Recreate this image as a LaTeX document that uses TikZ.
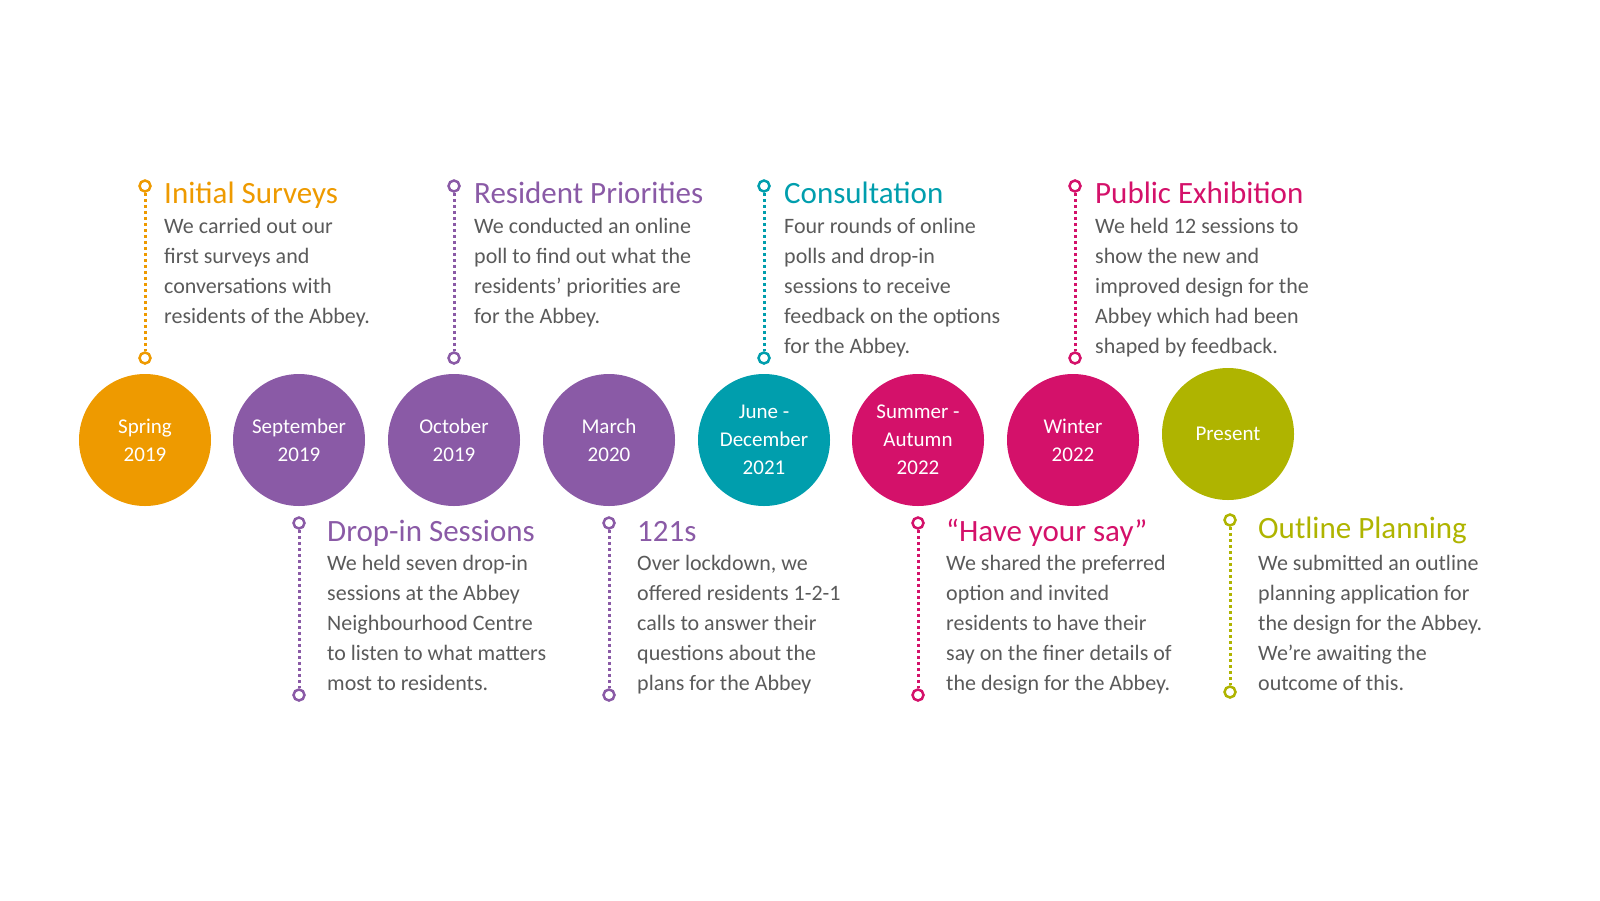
\documentclass[tikz,border=0pt]{standalone}
\usepackage{fontspec}
\setmainfont{Carlito}
\usetikzlibrary{positioning}
\definecolor{orng}{HTML}{EE9A00}
\definecolor{purp}{HTML}{8A5AA6}
\definecolor{teal}{HTML}{009EAD}
\definecolor{mgnt}{HTML}{D4116A}
\definecolor{olive}{HTML}{AFB400}
\definecolor{body}{HTML}{5A5A5A}
\tikzset{
  stage/.style={circle, minimum size=132pt, inner sep=0pt, text=white, align=center, font=\fontsize{21}{28}\selectfont},
  ring/.style={circle, draw, line width=2.5pt, fill=white, minimum size=11pt, inner sep=0pt},
  stem/.style={line width=3pt, dash pattern=on 3pt off 3pt},
  heading/.style={anchor=base west, font=\fontsize{31}{32}\selectfont, inner sep=0pt},
  blurb/.style={anchor=north west, align=left, text=body, font=\fontsize{22}{30}\selectfont, inner sep=0pt}
}
\begin{document}
\begin{tikzpicture}[x=1pt, y=-1pt]
  \useasboundingbox (0,0) rectangle (1600,900);

  % Stages
  \node (spring19) [stage, fill=orng] at (145,440) {Spring\\2019};
  \node (sep19) [stage, fill=purp] at (299,440) {September\\2019};
  \node (oct19) [stage, fill=purp] at (454,440) {October\\2019};
  \node (mar20) [stage, fill=purp] at (609,440) {March\\2020};
  \node (jun21) [stage, fill=teal] at (764,440) {June -\\December\\2021};
  \node (sum22) [stage, fill=mgnt] at (918,440) {Summer -\\Autumn\\2022};
  \node (win22) [stage, fill=mgnt] at (1073,440) {Winter\\2022};
  \node (present) [stage, fill=olive] at (1228,434) {Present};

  % Upper stems
  \node (r1a) [ring, draw=orng] at (145,186) {};
  \node (r1b) [ring, draw=orng] at (145,358) {};
  \node (r3a) [ring, draw=purp] at (454,186) {};
  \node (r3b) [ring, draw=purp] at (454,358) {};
  \node (r5a) [ring, draw=teal] at (764,186) {};
  \node (r5b) [ring, draw=teal] at (764,358) {};
  \node (r7a) [ring, draw=mgnt] at (1075,186) {};
  \node (r7b) [ring, draw=mgnt] at (1075,358) {};

  % Lower stems
  \node (r2a) [ring, draw=purp] at (299,523) {};
  \node (r2b) [ring, draw=purp] at (299,695) {};
  \node (r4a) [ring, draw=purp] at (609,523) {};
  \node (r4b) [ring, draw=purp] at (609,695) {};
  \node (r6a) [ring, draw=mgnt] at (918,523) {};
  \node (r6b) [ring, draw=mgnt] at (918,695) {};
  \node (r8a) [ring, draw=olive] at (1230,520) {};
  \node (r8b) [ring, draw=olive] at (1230,692) {};

  \draw[stem, orng] (r1a) -- (r1b);
  \draw[stem, purp] (r3a) -- (r3b);
  \draw[stem, teal] (r5a) -- (r5b);
  \draw[stem, mgnt] (r7a) -- (r7b);
  \draw[stem, purp] (r2a) -- (r2b);
  \draw[stem, purp] (r4a) -- (r4b);
  \draw[stem, mgnt] (r6a) -- (r6b);
  \draw[stem, olive] (r8a) -- (r8b);

  % Texts above
  \node (t1) [heading, text=orng] at (164,203) {Initial Surveys};
  \node (b1) [blurb] at (164,218) {We carried out our\\first surveys and\\conversations with\\residents of the Abbey.};
  \node (t3) [heading, text=purp] at (474,203) {Resident Priorities};
  \node (b3) [blurb] at (474,218) {We conducted an online\\poll to find out what the\\residents’ priorities are\\for the Abbey.};
  \node (t5) [heading, text=teal] at (784,203) {Consultation};
  \node (b5) [blurb] at (784,218) {Four rounds of online\\polls and drop-in\\sessions to receive\\feedback on the options\\for the Abbey.};
  \node (t7) [heading, text=mgnt] at (1095,203) {Public Exhibition};
  \node (b7) [blurb] at (1095,218) {We held 12 sessions to\\show the new and\\improved design for the\\Abbey which had been\\shaped by feedback.};

  % Texts below
  \node (t2) [heading, text=purp] at (327,541) {Drop-in Sessions};
  \node (b2) [blurb] at (327,555) {We held seven drop-in\\sessions at the Abbey\\Neighbourhood Centre\\to listen to what matters\\most to residents.};
  \node (t4) [heading, text=purp] at (637,541) {121s};
  \node (b4) [blurb] at (637,555) {Over lockdown, we\\offered residents 1-2-1\\calls to answer their\\questions about the\\plans for the Abbey};
  \node (t6) [heading, text=mgnt] at (946,541) {“Have your say”};
  \node (b6) [blurb] at (946,555) {We shared the preferred\\option and invited\\residents to have their\\say on the finer details of\\the design for the Abbey.};
  \node (t8) [heading, text=olive] at (1258,538) {Outline Planning};
  \node (b8) [blurb] at (1258,555) {We submitted an outline\\planning application for\\the design for the Abbey.\\We’re awaiting the\\outcome of this.};
\end{tikzpicture}
\end{document}
